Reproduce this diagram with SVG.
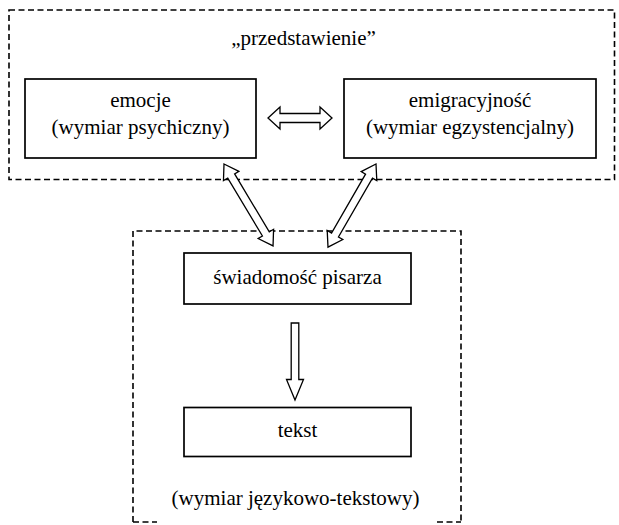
<svg xmlns="http://www.w3.org/2000/svg" width="619" height="525" viewBox="0 0 619 525">
<style>
.dash{fill:none;stroke:#000;stroke-width:1.6;stroke-dasharray:6 3.5}
.box{fill:#fff;stroke:#000;stroke-width:1.7}
.arr{fill:#fff;stroke:#000;stroke-width:1.3;stroke-linejoin:miter}
.t{font-family:"Liberation Serif",Tinos,Times,"DejaVu Serif",serif;font-size:21px;fill:#000;text-anchor:middle}
</style>
<rect width="619" height="525" fill="#fff"/>
<g id="group-przedstawienie">
<rect class="dash" x="9" y="10" width="605.5" height="169.5"/>
<text class="t" x="303.5" y="45">„przedstawienie”</text>
</g>
<g id="group-jezykowo">
<path class="dash" d="M133,522 L133,231 L461,231 L461,522 M133,522 L157,522 M437,522 L461,522"/>
<text class="t" x="295.5" y="505">(wymiar językowo-tekstowy)</text>
</g>
<g id="node-emocje">
<rect class="box" x="25" y="79" width="231" height="79"/>
<text class="t" x="140.5" y="107">emocje</text>
<text class="t" x="140.5" y="134">(wymiar psychiczny)</text>
</g>
<g id="node-emigracyjnosc">
<rect class="box" x="344" y="79" width="252" height="79"/>
<text class="t" x="470" y="107">emigracyjność</text>
<text class="t" x="470" y="134">(wymiar egzystencjalny)</text>
</g>
<g id="node-swiadomosc">
<rect class="box" x="184" y="253" width="227" height="51"/>
<text class="t" x="297.5" y="284">świadomość pisarza</text>
</g>
<g id="node-tekst">
<rect class="box" x="184" y="407.5" width="227" height="49"/>
<text class="t" x="297.5" y="437">tekst</text>
</g>
<g id="connectors">
<path class="arr" d="M268,118 L280,107 L280,113.5 L320,113.5 L320,107 L332,118 L320,129 L320,122.5 L280,122.5 L280,129 Z"/>
<path class="arr" transform="translate(224,164) rotate(59.1)" d="M0,0 L14,-9 L14,-4 L81.5,-4 L81.5,-9 L95.5,0 L81.5,9 L81.5,4 L14,4 L14,9 Z"/>
<path class="arr" transform="translate(376,164) rotate(120)" d="M0,0 L14,-9 L14,-4 L82,-4 L82,-9 L96,0 L82,9 L82,4 L14,4 L14,9 Z"/>
<path class="arr" d="M291.2,323 L298.8,323 L298.8,379.5 L303.5,379.5 L295,400 L286.5,379.5 L291.2,379.5 Z"/>
</g>
</svg>
